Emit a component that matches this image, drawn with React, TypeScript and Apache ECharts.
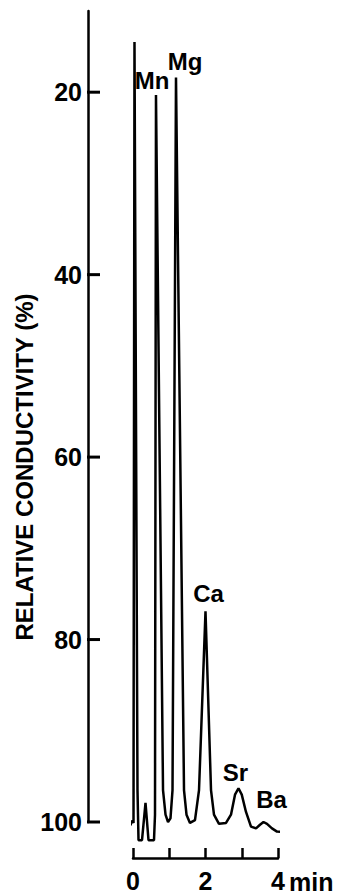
import React, { useEffect, useRef } from "react";
import * as echarts from "echarts";

// Chromatogram trace: retention time (min) and relative conductivity (%)
const timeMin = [
  -0.069, -0.041, -0.014, 0.014, 0.041, 0.124, 0.152, 0.248, 0.345, 0.428,
  0.579, 0.607, 0.634, 0.828, 0.897, 0.966, 1.034, 1.09, 1.186, 1.407,
  1.476, 1.572, 1.71, 1.821, 2.0, 2.152, 2.234, 2.372, 2.566, 2.703,
  2.814, 2.91, 3.0, 3.117, 3.255, 3.393, 3.503, 3.6, 3.697, 3.834,
  3.972, 4.138,
];
const conductivity = [
  100.36, 99.97, 99.9, 100.1, 14.5, 96.5, 102.0, 102.0, 97.9, 102.0,
  102.0, 99.2, 20.3, 96.5, 99.2, 100.0, 99.6, 96.5, 18.4, 96.5,
  99.2, 100.1, 99.8, 96.5, 76.9, 96.5, 99.2, 100.2, 100.1, 99.2,
  97.0, 96.3, 97.0, 98.9, 100.5, 100.7, 100.3, 100.0, 100.2, 100.7,
  101.05, 101.1,
];

// Peak identifications
const peakNames = ["Mn", "Mg", "Ca", "Sr", "Ba"];
const peakTimes = [0.634, 1.186, 2.0, 2.91, 3.6];
const peakValues = [20.3, 18.4, 76.9, 96.3, 100.0];

// Axis ticks
const yTicks = [20, 40, 60, 80, 100];
const yAxisTop = 11.1;
const yAxisBottom = 100;
const xTickLabels = ["0", "", "2", "", "4"];
const xUnit = "min";
const yTitle = "RELATIVE CONDUCTIVITY (%)";

export default function App() {
  const ref = useRef<HTMLDivElement>(null);

  useEffect(() => {
    if (!ref.current) return;
    const chart = echarts.init(ref.current, null, { renderer: "svg" });
    const font = "'Liberation Sans', Arial, Helvetica, sans-serif";
    const weight = "bold";
    const labelOffsets: Record<string, number[]> = {
      Mn: [-4, -14],
      Mg: [9, -16],
      Ca: [3, -18],
      Sr: [-3, -16],
      Ba: [8, -23],
    };
    const gridLeft = 133;
    const yOffset = 45;
    const xOffset = 36;
    const axisX = gridLeft - yOffset;

    chart.setOption({
      animation: false,
      backgroundColor: "#ffffff",
      grid: { left: gridLeft, right: 60, top: 11, bottom: 73 },
      xAxis: {
        type: "value",
        min: 0,
        max: 4,
        interval: 1,
        offset: xOffset,
        axisLine: { show: true, onZero: false, lineStyle: { color: "#000", width: 2.5 } },
        axisTick: { show: true, inside: true, length: 10, lineStyle: { color: "#000", width: 2.5 } },
        axisLabel: {
          formatter: (v: number) => xTickLabels[Math.round(v)] ?? "",
          margin: 10,
          fontSize: 25,
          fontWeight: weight,
          color: "#000",
          fontFamily: font,
        },
        splitLine: { show: false },
      },
      yAxis: {
        type: "value",
        min: yAxisTop,
        max: yAxisBottom,
        inverse: true,
        offset: yOffset,
        axisLine: { show: true, onZero: false, lineStyle: { color: "#000", width: 2.5 } },
        axisTick: { show: false },
        axisLabel: {
          customValues: yTicks,
          margin: 6,
          fontSize: 25,
          fontWeight: weight,
          color: "#000",
          fontFamily: font,
        },
        splitLine: { show: false },
      },
      series: [
        {
          type: "line",
          data: timeMin.map((t, i) => [t, conductivity[i]]),
          symbol: "none",
          showSymbol: false,
          clip: false,
          lineStyle: { color: "#000", width: 2.5 },
          z: 3,
        },
        {
          type: "scatter",
          data: peakNames.map((n, i) => ({
            name: n,
            value: [peakTimes[i], peakValues[i]],
            label: { offset: labelOffsets[n] },
          })),
          symbolSize: 1,
          clip: false,
          itemStyle: { color: "rgba(0,0,0,0)", opacity: 1 },
          label: {
            show: true,
            position: "inside",
            formatter: "{b}",
            fontSize: 24,
            fontWeight: weight,
            color: "#000",
            opacity: 1,
            fontFamily: font,
          },
          z: 4,
        },
        {
          // y-axis tick marks pointing inwards, positioned through the axis scale
          type: "custom",
          clip: false,
          silent: true,
          data: yTicks.map((v) => [0, v]),
          renderItem: (_params: any, api: any) => {
            const p = api.coord([0, api.value(1)]);
            return {
              type: "rect",
              shape: { x: axisX - 1, y: p[1] - 1.5, width: 13, height: 3 },
              style: { fill: "#000" },
            };
          },
          z: 10,
        },
      ],
    });

    const x4 = chart.convertToPixel({ xAxisIndex: 0 }, 4) as number;
    const yBase = chart.convertToPixel({ yAxisIndex: 0 }, yAxisBottom) as number;

    chart.setOption({
      graphic: [
        {
          type: "text",
          x: 24,
          y: 467,
          rotation: Math.PI / 2,
          style: {
            text: yTitle,
            fontSize: 24,
            fontWeight: weight,
            fontFamily: font,
            fill: "#000",
            textAlign: "center",
            textVerticalAlign: "middle",
            align: "center",
            verticalAlign: "middle",
          },
        },
        {
          type: "text",
          x: x4 + 11,
          y: yBase + xOffset + 24,
          style: {
            text: xUnit,
            fontSize: 25,
            fontWeight: weight,
            fontFamily: font,
            fill: "#000",
            textAlign: "left",
            textVerticalAlign: "middle",
            align: "left",
            verticalAlign: "middle",
          },
        },
      ],
    });

    return () => chart.dispose();
  }, []);

  return (
    <div
      ref={ref}
      style={{ position: "fixed", left: 0, top: 0, width: 338, height: 895, background: "#fff" }}
    />
  );
}
